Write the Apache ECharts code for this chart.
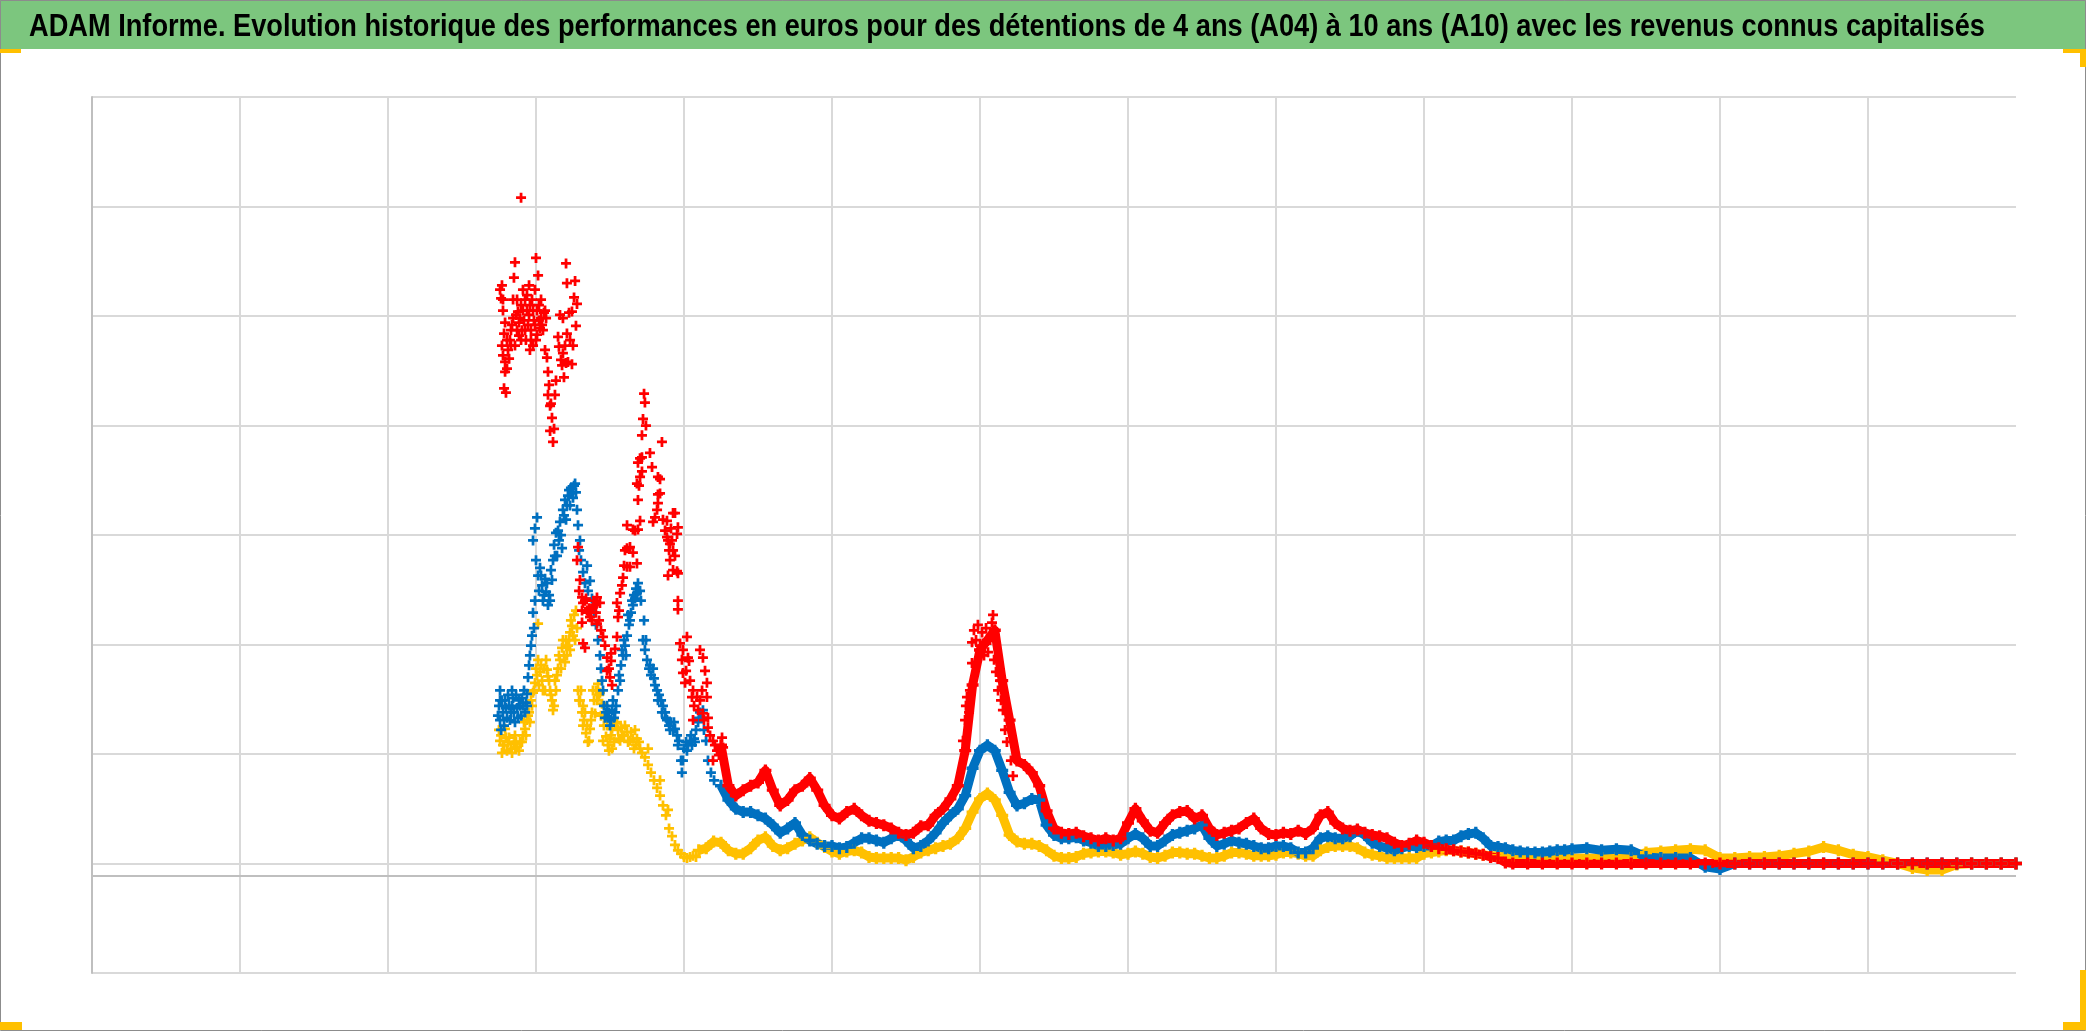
<!DOCTYPE html>
<html><head><meta charset="utf-8">
<script src="https://cdn.jsdelivr.net/npm/echarts@6/dist/echarts.min.js"></script>
<style>html,body{margin:0;padding:0;background:#fff}#c{width:2086px;height:1031px}</style>
</head><body><div id="c"></div>
<script>
const titleText = "ADAM Informe. Evolution historique des performances en euros pour des détentions de 4 ans (A04) à 10 ans (A10) avec les revenus connus capitalisés";
const seriesNames = ['A04', 'A07', 'A10'];
const seriesColors = ['#FFC000', '#0070C0', '#FF0000'];
const xMin = 0, xMax = 13, xStep = 1;
const yMin = 0, yMax = 8, yStep = 1;
const axisCrossing = 0.89;

// A04 (yellow): isolated crosses, then the continuous band
const a04Scatter = [[2.750,2.22],[2.757,2.12],[2.770,2.01],[2.784,2.08],[2.791,2.23],[2.797,2.15],[2.811,2.11],[2.831,2.05],[2.851,2.09],[2.858,2.17],[2.872,2.06],[2.892,2.11],[2.912,2.17],[2.926,2.23],[2.939,2.31],[2.953,2.38],[2.966,2.49],[2.980,2.56],[2.993,2.65],[3.000,2.78],[3.014,2.86],[3.014,3.19],[3.027,2.75],[3.041,2.67],[3.054,2.78],[3.061,2.58],[3.068,2.86],[3.081,2.71],[3.095,2.58],[3.108,2.49],[3.122,2.44],[3.128,2.67],[3.135,2.58],[3.149,2.78],[3.162,2.86],[3.176,2.97],[3.189,2.90],[3.196,2.84],[3.203,3.04],[3.216,2.99],[3.230,3.11],[3.230,2.95],[3.243,3.17],[3.257,3.27],[3.264,3.04],[3.270,3.31],[3.277,3.15],[3.284,2.58],[3.297,2.49],[3.311,2.38],[3.318,2.44],[3.324,2.31],[3.338,2.19],[3.351,2.11],[3.365,2.23],[3.378,2.38],[3.392,2.49],[3.399,2.37],[3.405,2.58],[3.419,2.64],[3.432,2.56],[3.446,2.46],[3.459,2.26],[3.466,2.35],[3.473,2.16],[3.486,2.08],[3.500,2.14],[3.514,2.23],[3.514,2.05],[3.534,2.28],[3.554,2.22],[3.568,2.12],[3.574,2.24],[3.595,2.17],[3.615,2.20],[3.635,2.12],[3.655,2.14],[3.669,2.22],[3.676,2.08],[3.696,2.11],[3.716,2.01],[3.736,1.97],[3.757,1.90],[3.757,2.05],[3.777,1.83],[3.797,1.76],[3.818,1.69],[3.838,1.62],[3.838,1.76],[3.858,1.53],[3.878,1.44],[3.892,1.49],[3.899,1.32],[3.919,1.25],[3.939,1.17],[3.959,1.12],[3.980,1.09],[4.000,1.06],[4.020,1.05],[4.041,1.06],[4.061,1.07],[4.081,1.06],
[2.764,2.17],[2.777,2.08],[2.804,2.03],[2.818,2.15],[2.838,2.01],[2.865,2.11],[2.885,2.03],[2.905,2.11],[2.919,2.29],[2.932,2.17],[2.946,2.35],[2.959,2.29],[2.973,2.44],[2.986,2.58],[3.007,2.72],[3.020,2.63],[3.034,2.81],[3.047,2.58],[3.074,2.77],[3.088,2.67],[3.101,2.54],[3.115,2.40],[3.142,2.72],[3.155,2.90],[3.169,2.78],[3.182,3.04],[3.209,2.90],[3.223,3.04],[3.236,3.22],[3.250,3.08],[3.291,2.49],[3.304,2.58],[3.318,2.26],[3.331,2.38],[3.345,2.26],[3.358,2.12],[3.372,2.31],[3.385,2.58],[3.412,2.49],[3.426,2.54],[3.439,2.35],[3.453,2.12],[3.480,2.26],[3.493,2.03],[3.507,2.17],[3.527,2.11],[3.547,2.29],[3.561,2.14],[3.581,2.17],[3.601,2.26],[3.622,2.11],[3.642,2.20],[3.662,2.05],[3.682,2.14],[3.703,2.05]];
const a04Band = [[4.10,1.12],[4.15,1.14],[4.20,1.20],[4.25,1.19],[4.30,1.12],[4.35,1.09],[4.40,1.09],[4.45,1.14],[4.50,1.21],[4.55,1.24],[4.60,1.16],[4.65,1.12],[4.70,1.14],[4.75,1.18],[4.80,1.21],[4.85,1.24],[4.90,1.19],[4.95,1.15],[5.00,1.11],[5.05,1.09],[5.10,1.11],[5.15,1.12],[5.20,1.10],[5.25,1.06],[5.30,1.05],[5.35,1.05],[5.40,1.05],[5.45,1.05],[5.50,1.03],[5.55,1.06],[5.60,1.10],[5.65,1.12],[5.70,1.14],[5.75,1.16],[5.80,1.18],[5.85,1.23],[5.90,1.32],[5.95,1.47],[6.00,1.59],[6.05,1.64],[6.10,1.58],[6.15,1.44],[6.20,1.26],[6.25,1.20],[6.30,1.18],[6.35,1.18],[6.40,1.16],[6.45,1.12],[6.50,1.07],[6.55,1.05],[6.60,1.05],[6.65,1.06],[6.70,1.09],[6.75,1.10],[6.80,1.11],[6.85,1.11],[6.90,1.10],[6.95,1.08],[7.00,1.09],[7.05,1.11],[7.10,1.09],[7.15,1.06],[7.20,1.05],[7.25,1.07],[7.30,1.10],[7.35,1.10],[7.40,1.09],[7.45,1.09],[7.50,1.07],[7.55,1.05],[7.60,1.05],[7.65,1.07],[7.70,1.10],[7.75,1.10],[7.80,1.09],[7.85,1.07],[7.90,1.07],[7.95,1.07],[8.00,1.08],[8.05,1.10],[8.10,1.10],[8.15,1.09],[8.20,1.07],[8.25,1.07],[8.30,1.12],[8.35,1.15],[8.40,1.16],[8.45,1.16],[8.50,1.16],[8.55,1.14],[8.60,1.10],[8.65,1.08],[8.70,1.07],[8.75,1.05],[8.80,1.05],[8.85,1.05],[8.90,1.05],[8.95,1.05],[9.00,1.09],[9.05,1.10],[9.10,1.11],[9.15,1.12],[9.20,1.12],[9.25,1.11],[9.30,1.10],[9.35,1.09],[9.40,1.08],[9.45,1.07],[9.50,1.07],[9.55,1.06],[9.6,1.06],[9.7,1.06],[9.8,1.05],[9.9,1.05],[10.0,1.05],[10.1,1.05],[10.2,1.05],[10.3,1.05],[10.4,1.06],[10.5,1.10],[10.6,1.11],[10.7,1.12],[10.8,1.13],[10.9,1.12],[11.0,1.05],[11.1,1.05],[11.2,1.06],[11.3,1.06],[11.4,1.07],[11.5,1.09],[11.6,1.11],[11.7,1.15],[11.8,1.12],[11.9,1.08],[12.0,1.06],[12.1,1.03],[12.2,1.00],[12.3,0.96],[12.4,0.94],[12.5,0.94],[12.6,0.99],[12.7,1.00],[12.8,1.00],[12.9,1.00],[13.0,1.00]];

// A07 (blue)
const a07Scatter = [[2.750,2.44],[2.757,2.58],[2.757,2.31],[2.764,2.22],[2.777,2.38],[2.791,2.49],[2.804,2.33],[2.818,2.44],[2.831,2.38],[2.845,2.51],[2.858,2.29],[2.872,2.42],[2.885,2.49],[2.899,2.35],[2.912,2.44],[2.919,2.58],[2.932,2.47],[2.939,2.55],[2.946,2.70],[2.953,2.81],[2.959,2.90],[2.966,2.99],[2.973,3.08],[2.980,3.29],[2.980,3.95],[2.986,3.15],[2.993,3.40],[2.993,4.06],[3.000,3.77],[3.007,4.16],[3.014,3.63],[3.027,3.70],[3.041,3.54],[3.047,3.40],[3.061,3.60],[3.068,3.48],[3.081,3.36],[3.088,3.45],[3.101,3.68],[3.115,3.77],[3.122,3.91],[3.135,4.02],[3.142,3.81],[3.155,3.95],[3.162,4.12],[3.176,3.88],[3.182,4.23],[3.196,4.32],[3.203,4.14],[3.216,4.36],[3.230,4.27],[3.236,4.43],[3.250,4.34],[3.257,4.45],[3.270,4.39],[3.277,4.23],[3.291,3.86],[3.304,3.77],[3.318,3.66],[3.331,3.56],[3.345,3.72],[3.351,3.49],[3.365,3.58],[3.378,3.42],[3.392,3.29],[3.405,3.18],[3.419,3.04],[3.432,2.90],[3.439,2.78],[3.453,2.58],[3.459,2.44],[3.473,2.38],[3.486,2.33],[3.500,2.26],[3.514,2.40],[3.527,2.33],[3.541,2.44],[3.554,2.58],[3.561,2.72],[3.574,2.81],[3.581,2.95],[3.595,3.04],[3.608,2.90],[3.615,3.08],[3.628,3.18],[3.642,3.29],[3.655,3.36],[3.662,3.45],[3.676,3.51],[3.689,3.56],[3.703,3.49],[3.709,3.40],[3.723,3.04],[3.736,2.95],[3.750,2.86],[3.764,2.78],[3.777,2.72],[3.791,2.78],[3.804,2.63],[3.818,2.58],[3.831,2.54],[3.845,2.49],[3.858,2.44],[3.872,2.38],[3.885,2.31],[3.899,2.26],[3.912,2.29],[3.926,2.22],[3.939,2.23],[3.953,2.17],[3.966,2.12],[3.980,1.94],[3.986,1.83],[4.000,2.05],[4.014,2.11],[4.027,2.08],[4.041,2.12],[4.054,2.08],[4.068,2.14],[4.081,2.22],[4.095,2.29],[4.108,2.38],[4.122,2.33],[4.135,2.22],[4.149,2.12],[4.162,1.94],[4.182,1.83],[4.203,1.76],
[2.743,2.35],[2.770,2.49],[2.784,2.26],[2.797,2.42],[2.811,2.54],[2.824,2.31],[2.838,2.44],[2.851,2.38],[2.865,2.54],[2.878,2.33],[2.892,2.44],[2.905,2.51],[2.926,2.38],[2.939,2.44],[2.757,2.49],[2.838,2.58],[3.020,3.49],[3.034,3.63],[3.054,3.45],[3.074,3.56],[3.095,3.40],[3.108,3.59],[3.128,3.81],[3.149,4.04],[3.169,4.00],[3.189,4.18],[3.209,4.27],[3.223,4.41],[3.243,4.38],[3.264,4.47],[3.284,4.09],[3.297,3.95],[3.446,2.67],[3.466,2.33],[3.480,2.44],[3.493,2.38],[3.507,2.31],[3.520,2.49],[3.534,2.38],[3.568,2.67],[3.588,2.90],[3.601,2.99],[3.622,3.27],[3.635,3.22],[3.649,3.40],[3.669,3.42],[3.682,3.47],[3.730,3.22],[3.743,3.04],[3.770,2.81],[3.797,2.69],[3.824,2.49],[3.851,2.38],[3.878,2.33],[3.905,2.22],[3.932,2.29],[3.959,2.08],[3.993,1.94],[4.020,2.03],[4.047,2.17],[4.074,2.11],[4.101,2.33],[4.128,2.40]];
const a07Band = [[4.25,1.71],[4.30,1.58],[4.35,1.50],[4.40,1.47],[4.45,1.47],[4.50,1.44],[4.55,1.41],[4.60,1.35],[4.65,1.28],[4.70,1.32],[4.75,1.37],[4.80,1.26],[4.85,1.21],[4.90,1.18],[4.95,1.16],[5.00,1.16],[5.05,1.14],[5.10,1.15],[5.15,1.19],[5.20,1.23],[5.25,1.23],[5.30,1.21],[5.35,1.19],[5.40,1.23],[5.45,1.26],[5.50,1.21],[5.55,1.14],[5.60,1.16],[5.65,1.21],[5.70,1.28],[5.75,1.37],[5.80,1.44],[5.85,1.50],[5.90,1.62],[5.95,1.87],[6.00,2.03],[6.05,2.08],[6.10,2.03],[6.15,1.85],[6.20,1.65],[6.25,1.53],[6.30,1.55],[6.35,1.59],[6.40,1.58],[6.45,1.35],[6.50,1.26],[6.55,1.23],[6.60,1.23],[6.65,1.24],[6.70,1.21],[6.75,1.19],[6.80,1.16],[6.85,1.16],[6.90,1.17],[6.95,1.18],[7.00,1.23],[7.05,1.27],[7.10,1.23],[7.15,1.16],[7.20,1.16],[7.25,1.21],[7.30,1.26],[7.35,1.28],[7.40,1.30],[7.45,1.32],[7.50,1.35],[7.55,1.23],[7.60,1.16],[7.65,1.18],[7.70,1.21],[7.75,1.19],[7.80,1.18],[7.85,1.16],[7.90,1.14],[7.95,1.14],[8.00,1.16],[8.05,1.16],[8.10,1.14],[8.15,1.10],[8.20,1.10],[8.25,1.14],[8.30,1.23],[8.35,1.25],[8.40,1.23],[8.45,1.23],[8.50,1.25],[8.55,1.30],[8.60,1.26],[8.65,1.19],[8.70,1.16],[8.75,1.14],[8.80,1.12],[8.85,1.14],[8.90,1.16],[8.95,1.15],[9.00,1.16],[9.05,1.16],[9.10,1.20],[9.15,1.21],[9.20,1.21],[9.25,1.25],[9.30,1.27],[9.35,1.28],[9.40,1.23],[9.45,1.16],[9.50,1.15],[9.55,1.14],[9.60,1.12],[9.65,1.11],[9.70,1.10],[9.75,1.10],[9.80,1.10],[9.85,1.11],[9.90,1.12],[9.95,1.12],[10.0,1.13],[10.1,1.14],[10.2,1.12],[10.3,1.13],[10.4,1.12],[10.5,1.06],[10.6,1.05],[10.7,1.05],[10.8,1.05],[10.9,0.97],[11.0,0.95],[11.1,1.00],[11.2,1.00],[11.3,1.00],[11.4,1.00],[11.5,1.00],[11.6,1.00],[11.7,1.00],[11.8,1.00],[11.9,1.00],[12.0,1.00],[12.1,1.00],[12.2,1.00],[12.3,1.00],[12.4,1.00],[12.5,1.00],[12.6,1.00],[12.7,1.00],[12.8,1.00],[12.9,1.00],[13.0,1.00]];

// A10 (red)
const a10Scatter = [[2.757,6.24],[2.764,6.16],[2.770,6.28],[2.777,6.05],[2.784,5.84],[2.770,5.73],[2.777,5.64],[2.791,5.58],[2.791,5.49],[2.784,5.34],[2.797,5.30],[2.804,5.52],[2.811,5.69],[2.824,5.78],[2.831,5.73],[2.838,5.92],[2.845,6.15],[2.851,6.35],[2.858,6.49],[2.865,6.01],[2.872,5.87],[2.878,6.04],[2.885,5.82],[2.892,5.98],[2.899,7.08],[2.899,6.10],[2.905,5.87],[2.912,6.24],[2.919,5.96],[2.926,6.15],[2.932,5.78],[2.939,6.05],[2.946,5.92],[2.953,6.28],[2.959,5.69],[2.959,6.10],[2.966,5.87],[2.973,6.15],[2.980,5.73],[2.986,5.96],[2.993,6.24],[3.000,6.53],[3.000,5.78],[3.007,6.05],[3.014,6.37],[3.020,5.96],[3.027,5.89],[3.034,6.15],[3.041,5.92],[3.054,6.03],[3.068,5.98],[3.061,5.69],[3.074,5.62],[3.081,5.49],[3.081,5.28],[3.088,5.37],[3.095,5.18],[3.101,5.20],[3.108,5.07],[3.095,4.95],[3.115,4.85],[3.122,4.97],[3.128,5.28],[3.135,5.41],[3.203,6.48],[3.264,6.32],[3.209,6.30],[3.257,6.17],[3.277,6.11],[3.223,6.03],[3.162,6.01],[3.270,5.91],[3.209,5.84],[3.149,5.81],[3.250,5.73],[3.182,5.66],[3.243,5.56],[3.176,5.55],[3.189,5.44],[3.216,5.58],[3.169,5.60],[3.230,5.78],[3.196,5.73],[3.243,6.04],[3.182,5.98],[3.155,5.72],[3.203,5.57],[3.284,3.89],[3.277,3.77],[3.297,3.59],[3.311,3.43],[3.318,3.38],[3.345,3.31],[3.365,3.25],[3.385,3.34],[3.412,3.43],[3.432,3.38],[3.412,3.19],[3.318,3.01],[3.311,3.20],[3.331,3.40],[3.351,3.29],[3.378,3.22],[3.399,3.36],[3.331,2.97],[3.453,3.07],[3.480,2.88],[3.480,2.76],[3.500,2.70],[3.514,2.63],[3.507,2.92],[3.547,3.07],[3.554,3.25],[3.547,3.38],[3.568,3.47],[3.588,3.61],[3.615,3.71],[3.601,3.86],[3.635,3.89],[3.615,4.09],[3.655,4.05],[3.669,4.04],[3.689,4.05],[3.615,3.88],[3.655,3.84],[3.635,3.71],[3.682,3.74],[3.703,4.13],[3.689,4.32],[3.682,4.47],[3.696,4.45],[3.703,4.53],[3.689,4.66],[3.703,4.70],[3.716,4.71],[3.716,4.58],[3.716,4.91],[3.723,5.06],[3.730,5.29],[3.736,5.21],[3.743,5.00],[3.770,4.75],[3.784,4.62],[3.824,4.53],[3.838,4.51],[3.838,4.38],[3.824,4.37],[3.824,4.29],[3.818,4.23],[3.804,4.16],[3.791,4.12],[3.851,4.85],[3.858,4.14],[3.885,4.13],[3.885,3.98],[3.905,3.92],[3.926,3.86],[3.892,3.95],[3.926,4.20],[3.953,4.01],[3.939,4.20],[3.959,4.07],[3.905,3.77],[3.926,3.68],[3.953,3.67],[3.959,3.65],[3.892,3.63],[3.959,3.40],[3.959,3.32],[3.973,3.01],[3.993,2.95],[4.020,3.07],[4.027,2.88],[3.993,2.74],[4.041,2.67],[4.007,2.65],[4.061,2.58],[4.088,2.52],[4.054,2.52],[4.108,2.95],[4.128,2.88],[4.142,2.76],[4.155,2.65],[4.122,2.58],[4.155,2.52],[4.095,2.40],[4.061,2.31],[4.128,2.37],[4.162,2.33],[4.162,2.24],[4.196,2.12],[4.223,2.03],[4.257,2.15],[4.264,2.06],[4.196,1.94],[5.885,2.12],[5.899,2.31],[5.905,2.44],[5.912,2.52],[5.926,2.38],[5.932,2.58],[5.946,2.83],[5.946,3.02],[5.959,3.13],[5.973,3.04],[5.986,3.18],[6.000,2.99],[6.014,3.11],[6.027,2.90],[6.041,3.15],[6.054,2.93],[6.068,3.04],[6.081,3.20],[6.088,3.27],[6.095,2.86],[6.108,2.75],[6.122,2.58],[6.135,2.67],[6.142,2.49],[6.155,2.40],[6.169,2.22],[6.182,2.11],[6.196,2.23],[6.209,1.94],[6.223,1.80],
[2.777,6.15],[2.791,5.94],[2.804,5.78],[2.818,5.61],[2.831,5.87],[2.845,5.98],[2.858,5.73],[2.872,6.15],[2.885,5.94],[2.899,5.78],[2.912,6.05],[2.926,5.87],[2.939,6.19],[2.953,6.01],[2.966,5.78],[2.980,6.05],[2.993,5.92],[3.007,5.83],[3.020,6.10],[3.034,5.98],[3.047,5.87],[3.061,6.05],[3.291,3.49],[3.311,3.31],[3.338,3.42],[3.358,3.33],[3.372,3.29],[3.392,3.40],[3.405,3.29],[3.426,3.22],[3.439,3.13],[3.466,2.99],[3.493,2.78],[3.507,2.85],[3.534,2.96],[3.561,3.31],[3.581,3.54],[3.595,3.72],[3.872,4.04],[3.899,3.86],[3.919,3.95],[3.939,3.81],[3.912,4.06],[3.986,2.86],[4.014,2.76],[4.034,2.85],[4.068,2.44],[4.108,2.49],[4.135,2.31],[4.176,2.17],[4.209,2.08],[4.236,1.99]];
const a10Band = [[4.25,2.08],[4.30,1.71],[4.35,1.62],[4.40,1.67],[4.45,1.71],[4.50,1.74],[4.55,1.85],[4.60,1.67],[4.65,1.53],[4.70,1.58],[4.75,1.67],[4.80,1.71],[4.85,1.78],[4.90,1.67],[4.95,1.53],[5.00,1.44],[5.05,1.41],[5.10,1.47],[5.15,1.50],[5.20,1.44],[5.25,1.39],[5.30,1.37],[5.35,1.35],[5.40,1.32],[5.45,1.28],[5.50,1.26],[5.55,1.28],[5.60,1.34],[5.65,1.35],[5.70,1.44],[5.75,1.50],[5.80,1.59],[5.85,1.71],[5.90,2.03],[5.95,2.63],[6.00,2.95],[6.05,3.04],[6.10,3.13],[6.15,2.67],[6.20,2.31],[6.25,1.94],[6.30,1.90],[6.35,1.83],[6.40,1.71],[6.45,1.48],[6.50,1.32],[6.55,1.28],[6.60,1.27],[6.65,1.28],[6.70,1.25],[6.75,1.23],[6.80,1.21],[6.85,1.23],[6.90,1.21],[6.95,1.23],[7.00,1.37],[7.05,1.50],[7.10,1.39],[7.15,1.30],[7.20,1.28],[7.25,1.37],[7.30,1.44],[7.35,1.47],[7.40,1.48],[7.45,1.41],[7.50,1.44],[7.55,1.32],[7.60,1.26],[7.65,1.28],[7.70,1.30],[7.75,1.32],[7.80,1.37],[7.85,1.41],[7.90,1.32],[7.95,1.27],[8.00,1.26],[8.05,1.28],[8.10,1.27],[8.15,1.30],[8.20,1.27],[8.25,1.32],[8.30,1.44],[8.35,1.47],[8.40,1.37],[8.45,1.32],[8.50,1.30],[8.55,1.31],[8.60,1.28],[8.65,1.26],[8.70,1.25],[8.75,1.23],[8.80,1.19],[8.85,1.16],[8.90,1.18],[8.95,1.21],[9.00,1.19],[9.05,1.16],[9.10,1.14],[9.15,1.13],[9.20,1.12],[9.25,1.11],[9.30,1.10],[9.35,1.09],[9.40,1.08],[9.45,1.06],[9.50,1.05],[9.55,1.01],[9.6,1.00],[9.7,1.00],[9.8,1.00],[9.9,1.00],[10.0,1.00],[10.1,1.00],[10.2,1.00],[10.3,1.00],[10.4,1.00],[10.5,1.00],[10.6,1.00],[10.7,1.00],[10.8,1.00],[10.9,1.00],[11.0,1.00],[11.1,1.00],[11.2,1.00],[11.3,1.00],[11.4,1.00],[11.5,1.00],[11.6,1.00],[11.7,1.00],[11.8,1.00],[11.9,1.00],[12.0,1.00],[12.1,1.00],[12.2,1.00],[12.3,1.00],[12.4,1.00],[12.5,1.00],[12.6,1.00],[12.7,1.00],[12.8,1.00],[12.9,1.00],[13.0,1.00]];

const scatterSets = [a04Scatter, a07Scatter, a10Scatter];
const bandSets = [a04Band, a07Band, a10Band];

// ---- layout / style ----
const W = 2086, H = 1031;
const plusSymbol = 'path://M0,2.9L8,2.9L8,5.1L0,5.1Z M2.9,0L5.1,0L5.1,8L2.9,8Z';
const titleFamily = '"Liberation Sans", Arial, sans-serif';
const titleSize = 32, titleLeft = 29, titleWidth = 1956, titleBaseline = 38.5;

const mctx = document.createElement('canvas').getContext('2d');
mctx.font = 'bold ' + titleSize + 'px ' + titleFamily;
const titleScaleX = titleWidth / mctx.measureText(titleText).width;

const series = [];
seriesNames.forEach((name, i) => {
  const band = {
    type: 'line', name: name, data: bandSets[i], symbol: 'none', showSymbol: false,
    lineStyle: { color: seriesColors[i], width: 9, join: 'round' }, silent: true, z: 2
  };
  if (i === 0) {
    band.markLine = {
      silent: true, symbol: ['none', 'none'], label: { show: false },
      lineStyle: { color: '#BFBFBF', width: 2, type: 'solid' },
      data: [{ yAxis: axisCrossing }], z: 1
    };
  }
  series.push(band);
  series.push({
    type: 'scatter', name: name, data: bandSets[i],
    symbol: plusSymbol, symbolSize: 12,
    itemStyle: { color: seriesColors[i], opacity: 1 }, silent: true, z: 2
  });
  series.push({
    type: 'scatter', name: name, data: scatterSets[i],
    symbol: plusSymbol, symbolSize: 10,
    itemStyle: { color: seriesColors[i], opacity: 1 }, silent: true, z: 2
  });
});

const chart = echarts.init(document.getElementById('c'), null, { renderer: 'canvas', width: W, height: H });
chart.setOption({
  animation: false,
  backgroundColor: '#ffffff',
  grid: { left: 92, right: 70, top: 97, bottom: 58, containLabel: false },
  xAxis: {
    type: 'value', min: xMin, max: xMax, interval: xStep,
    axisLine: { show: false }, axisTick: { show: false }, axisLabel: { show: false },
    splitLine: { show: true, showMaxLine: false, lineStyle: { color: '#D9D9D9', width: 2 } }
  },
  yAxis: {
    type: 'value', min: yMin, max: yMax, interval: yStep,
    axisLine: { show: true, lineStyle: { color: '#BFBFBF', width: 2 } },
    axisTick: { show: false }, axisLabel: { show: false },
    splitLine: { show: true, lineStyle: { color: '#D9D9D9', width: 2 } }
  },
  graphic: [
    { type: 'rect', shape: { x: 0, y: 0, width: W, height: 49 }, style: { fill: '#7CC67E' }, z: 0, silent: true },
    { type: 'text', x: titleLeft, y: titleBaseline - 0.35 * titleSize, scaleX: titleScaleX, scaleY: 1, originX: 0, originY: 0, z: 10, silent: true,
      style: { text: titleText, fontFamily: titleFamily, fontWeight: 'bold', fontSize: titleSize,
               fill: '#000000', textAlign: 'left', textVerticalAlign: 'middle', verticalAlign: 'middle' } },
    { type: 'rect', shape: { x: 0.5, y: 0.5, width: W - 1, height: H - 1 }, style: { fill: 'none', stroke: '#8C8C8C', lineWidth: 1 }, z: 20, silent: true },
    { type: 'rect', shape: { x: 0, y: 49, width: 21, height: 4 }, style: { fill: '#FFC000' }, z: 21, silent: true },
    { type: 'rect', shape: { x: 2063, y: 49, width: 23, height: 4 }, style: { fill: '#FFC000' }, z: 21, silent: true },
    { type: 'rect', shape: { x: 2080, y: 49, width: 6, height: 18 }, style: { fill: '#FFC000' }, z: 21, silent: true },
    { type: 'rect', shape: { x: 0, y: 1022, width: 22, height: 8 }, style: { fill: '#FFC000' }, z: 21, silent: true },
    { type: 'rect', shape: { x: 2080, y: 970, width: 6, height: 60 }, style: { fill: '#FFC000' }, z: 21, silent: true },
    { type: 'rect', shape: { x: 2063, y: 1022, width: 23, height: 8 }, style: { fill: '#FFC000' }, z: 21, silent: true }
  ],
  series: series
});
</script>
</body></html>
